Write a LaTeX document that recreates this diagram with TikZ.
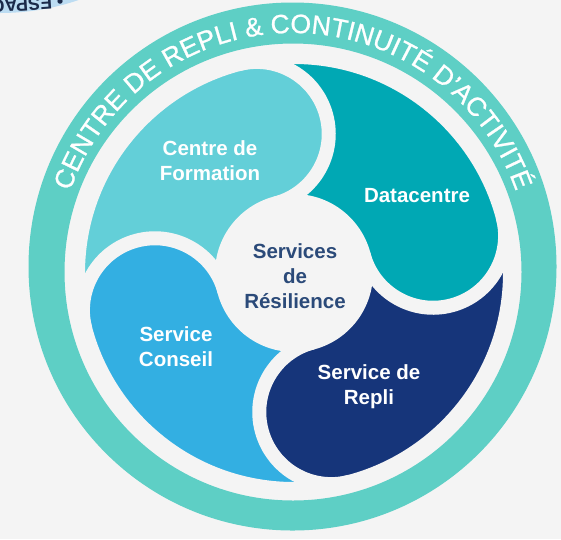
\documentclass[tikz,border=0pt]{standalone}
\usepackage{fontspec}
\setmainfont{Liberation Sans}
\newfontfamily\ringfont{Liberation Sans}[FakeBold=0.9]
\usetikzlibrary{decorations.text}
\definecolor{bg}{HTML}{F4F4F4}
\definecolor{ringc}{HTML}{5ECFC5}
\definecolor{cform}{HTML}{63CFD8}
\definecolor{cdata}{HTML}{00A8B4}
\definecolor{cconseil}{HTML}{33AFE2}
\definecolor{crepli}{HTML}{16357A}
\definecolor{ctext}{HTML}{2B4A79}
\definecolor{cblue}{HTML}{BCDCF2}
\definecolor{cnavy}{HTML}{1B2A4A}
\begin{document}
\begin{tikzpicture}[x=1pt,y=1pt,
  lbl/.style={font=\bfseries\fontsize{20.5}{25}\selectfont, text=white, align=center, inner sep=0pt},
  gapline/.style={draw=bg, line width=14pt}]
\useasboundingbox (0,0) rectangle (561,-539);
\fill[bg] (0,0) rectangle (561,-539);
% fragment of another badge, top left
\fill[cblue] (0,230) circle[radius=243];
\node[font=\bfseries\fontsize{18}{18}\selectfont, text=cnavy, inner sep=0pt, rotate=184, anchor=north west] (frag) at (64,-8.5) {• ESPACE};
% petals
\begin{scope}[shift={(294,-273)}]
\foreach \a/\c in {15/cdata,105/cform,195/cconseil,285/crepli}{
  \fill[\c] (0,0) -- ({\a+90}:72) arc[start angle={\a-90}, end angle={\a+90}, radius=72]
     arc[start angle={\a+90}, end angle=\a, radius=216]
     arc[start angle=\a, end angle={\a-180}, radius=72] -- cycle;
}
\foreach \a in {15,105,195,285}{
  \draw[gapline] (\a:216) arc[start angle=\a, end angle={\a-180}, radius=72];
}
\draw[gapline] (0,0) circle[radius=216];
\fill[bg] (0,0) circle[radius=79];
\end{scope}
% outer ring
\fill[ringc, even odd rule] (292.5,-266.5) circle[radius=264] (293,-272) circle[radius=228.5];
\path[decorate, decoration={text along path, text align=center, text color=white,
   text={|\ringfont\fontsize{26.5}{26.5}\selectfont|CENTRE DE REPLI {\&} CONTINUITÉ D’ACTIVITÉ}}]
   (293,-269) ++(168:236) arc[start angle=168, end angle=12, radius=236];
% labels
\node[lbl] (form) at (210,-160.5) {Centre de\\Formation};
\node[lbl] (data) at (417,-196) {Datacentre};
\node[lbl, text=ctext] (res) at (295,-276) {Services\\de\\Résilience};
\node[lbl] (cons) at (176,-346.5) {Service\\Conseil};
\node[lbl] (repli) at (369,-387) {Service de\\Repli};
\end{tikzpicture}
\end{document}
